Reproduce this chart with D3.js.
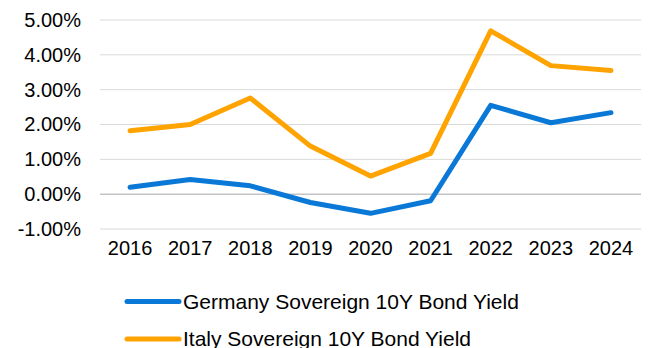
<!DOCTYPE html>
<html>
<head>
<meta charset="utf-8">
<script src="https://cdn.jsdelivr.net/npm/d3@7"></script>
<style>
  html, body { margin: 0; padding: 0; background: #fff; }
  svg { display: block; font-family: "Liberation Sans", Arial, sans-serif; }
</style>
</head>
<body>
<svg id="chart" width="649" height="348"></svg>
<script>
// Annual 10-year sovereign bond yields (%)
const years = ["2016", "2017", "2018", "2019", "2020", "2021", "2022", "2023", "2024"];
const germany = [0.20, 0.42, 0.24, -0.24, -0.55, -0.19, 2.55, 2.05, 2.34];
const italy = [1.82, 2.00, 2.76, 1.38, 0.52, 1.17, 4.69, 3.69, 3.55];
const yTicks = [-1, 0, 1, 2, 3, 4, 5];
const seriesNames = ["Germany Sovereign 10Y Bond Yield", "Italy Sovereign 10Y Bond Yield"];
const seriesColors = ["#0A78D7", "#FFA300"];

const svg = d3.select("#chart");
const plot = { left: 100, right: 641, top: 20, bottom: 229 };

const x = d3.scaleBand().domain(years).range([plot.left, plot.right]);
const y = d3.scaleLinear().domain([-1, 5]).range([plot.bottom, plot.top]);

// Horizontal gridlines, with a darker zero baseline
svg.append("g")
  .selectAll("line")
  .data(yTicks)
  .join("line")
  .attr("x1", plot.left)
  .attr("x2", plot.right)
  .attr("y1", d => y(d))
  .attr("y2", d => y(d))
  .attr("stroke", d => d === 0 ? "#A6A6A6" : "#D9D9D9")
  .attr("stroke-width", 1);

// Y axis labels
const yAxis = d3.axisLeft(y)
  .tickValues(yTicks)
  .tickSize(0)
  .tickPadding(19)
  .tickFormat(d => d.toFixed(2) + "%");
svg.append("g")
  .attr("transform", `translate(${plot.left},0)`)
  .call(yAxis)
  .call(g => g.select(".domain").remove())
  .selectAll("text")
  .attr("font-size", 20)
  .attr("fill", "#000")
  .attr("font-family", "Liberation Sans, Arial, sans-serif");

// X axis labels
const xAxis = d3.axisBottom(x).tickSize(0).tickPadding(12);
svg.append("g")
  .attr("transform", `translate(0,${plot.bottom})`)
  .call(xAxis)
  .call(g => g.select(".domain").remove())
  .selectAll("text")
  .attr("font-size", 20)
  .attr("fill", "#000")
  .attr("font-family", "Liberation Sans, Arial, sans-serif");

// Series lines
const line = d3.line()
  .x((d, i) => x(years[i]) + x.bandwidth() / 2)
  .y(d => y(d));

[germany, italy].forEach((values, i) => {
  svg.append("path")
    .datum(values)
    .attr("d", line)
    .attr("fill", "none")
    .attr("stroke", seriesColors[i])
    .attr("stroke-width", 5)
    .attr("stroke-linejoin", "round")
    .attr("stroke-linecap", "round");
});

// Legend
const legend = svg.append("g");
const legendRows = [301.5, 339];
seriesNames.forEach((name, i) => {
  const row = legend.append("g").attr("transform", `translate(0,${legendRows[i]})`);
  row.append("line")
    .attr("x1", 127).attr("x2", 179)
    .attr("y1", 0).attr("y2", 0)
    .attr("stroke", seriesColors[i])
    .attr("stroke-width", 5)
    .attr("stroke-linecap", "round");
  row.append("text")
    .attr("x", 183)
    .attr("y", 0)
    .attr("dy", "0.35em")
    .attr("font-size", 21)
    .attr("fill", "#000")
    .text(name);
});
</script>
</body>
</html>
